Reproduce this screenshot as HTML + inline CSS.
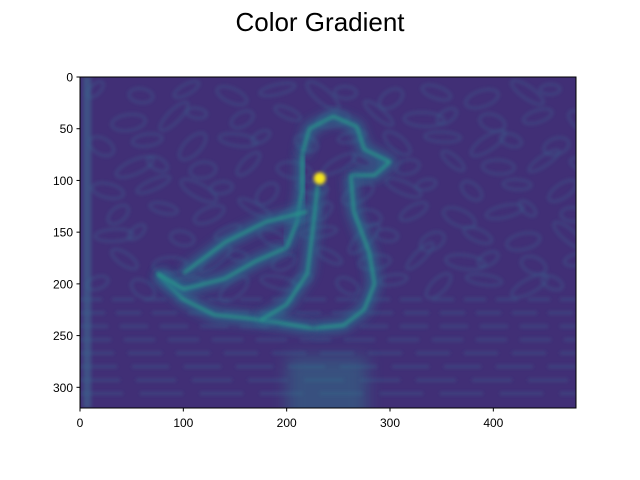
<!DOCTYPE html>
<html><head><meta charset="utf-8"><style>
html,body{margin:0;padding:0;background:#fff;width:640px;height:480px;overflow:hidden;font-family:"Liberation Sans",sans-serif}
svg{display:block}
</style></head><body>
<svg id="chart" width="640" height="480" xmlns="http://www.w3.org/2000/svg">
<defs>
<filter id="b6" x="-20%" y="-20%" width="140%" height="140%"><feGaussianBlur stdDeviation="5"/></filter>
<filter id="b2" x="-20%" y="-20%" width="140%" height="140%"><feGaussianBlur stdDeviation="1.8"/></filter>
<filter id="b10" x="-30%" y="-30%" width="160%" height="160%"><feGaussianBlur stdDeviation="8"/></filter>
<clipPath id="clip"><rect x="80" y="77" width="496" height="331"/></clipPath>
</defs>
<text x="320" y="31" font-size="26" text-anchor="middle" fill="#000">Color Gradient</text>
<g id="img" clip-path="url(#clip)"></g>
<rect x="80" y="77" width="496" height="331" fill="none" stroke="#000" stroke-width="1"/>
<g id="axes"></g>
</svg>
<script>
const xTicks=[0,100,200,300,400];
const yTicks=[0,50,100,150,200,250,300];
const xMax=480, yMax=320;
const duckHead=[[215,75],[222,50],[245,38],[268,48],[275,70],[300,82],[285,95],[262,95]];
const duckNeckFront=[[262,95],[265,130],[280,170],[285,200],[275,225],[255,240],[225,243]];
const duckBody=[[225,243],[190,237],[160,233],[130,230],[100,215],[75,190]];
const duckBack=[[75,190],[100,205],[140,195],[170,178],[200,165]];
const duckNeckBack=[[200,165],[210,140],[215,110],[215,75]];
const duckInner=[[230,105],[225,150],[220,190],[200,220],[175,235]];
const duckBackTop=[[220,130],[180,140],[140,160],[100,190]];
const glowX=[232], glowY=[98];
const x0=80,y0=77,w=496,h=331;
const sx=v=>x0+v/xMax*w, sy=v=>y0+v/yMax*h;
const NS="http://www.w3.org/2000/svg";
const img=document.getElementById('img');
const bg=document.createElementNS(NS,'rect');


bg.setAttribute('x',x0);bg.setAttribute('y',y0);bg.setAttribute('width',w);bg.setAttribute('height',h);bg.setAttribute('fill','#412f76');
img.appendChild(bg);
const tex=document.createElementNS(NS,'g');


tex.setAttribute('filter','url(#b2)');
let s='';
for(let r=0;r<9;r++){for(let c=0;c<12;c++){const k=(r*7+c*13)%11;const cx=sx(15+c*40+(r%2)*18+k*2),cy=sy(12+r*23+(k%4)*3);s+=`<ellipse cx="${cx}" cy="${cy}" rx="${10+k}" ry="${5+k%4}" fill="none" stroke="#3a5689" stroke-width="2.5" opacity="0.6" transform="rotate(${(r*37+c*53)%90-45} ${cx} ${cy})"/>`;}}
for(let r=0;r<8;r++){s+=`<line x1="${x0}" x2="${x0+w}" y1="${sy(215+r*13)}" y2="${sy(215+r*13)}" stroke="#3a5689" stroke-width="3" stroke-dasharray="${22+r*3} ${10+r}" opacity="0.55"/>`;}
s+=`<rect x="${sx(3)}" y="${y0}" width="8" height="${h}" fill="#3a6790" opacity="0.6"/>`;
tex.innerHTML=s;img.appendChild(tex);
const refl=document.createElementNS(NS,'rect');


refl.setAttribute('x',sx(200));refl.setAttribute('y',sy(270));refl.setAttribute('width',sx(278)-sx(200));refl.setAttribute('height',h);refl.setAttribute('fill','#2f7a8a');refl.setAttribute('opacity','0.45');refl.setAttribute('filter','url(#b10)');
img.appendChild(refl);
const strokes=[duckHead,duckNeckFront,duckBody,duckBack,duckNeckBack,duckInner,duckBackTop];
const names=['duck-head-edge','duck-neck-front-edge','duck-body-edge','duck-back-edge','duck-neck-back-edge','duck-inner-edge','duck-back-top-edge'];
strokes.forEach((pts,i)=>{
 const d='M'+pts.map(p=>sx(p[0])+','+sy(p[1])).join(' L');
 const g=document.createElementNS(NS,'path');
 
 
 g.setAttribute('d',d);g.setAttribute('fill','none');g.setAttribute('stroke','#2a6f8e');g.setAttribute('stroke-width','12');g.setAttribute('stroke-linejoin','round');g.setAttribute('opacity','0.8');g.setAttribute('filter','url(#b6)');
 img.appendChild(g);
 const p=document.createElementNS(NS,'path');
 
 
 p.setAttribute('d',d);p.setAttribute('fill','none');p.setAttribute('stroke','#25a58a');p.setAttribute('stroke-width','2.5');p.setAttribute('stroke-linejoin','round');p.setAttribute('opacity','0.85');p.setAttribute('filter','url(#b2)');
 img.appendChild(p);
});
glowX.forEach((gx,i)=>{
 const c=document.createElementNS(NS,'circle');
 
 
 c.setAttribute('cx',sx(gx));c.setAttribute('cy',sy(glowY[i]));c.setAttribute('r','6');c.setAttribute('fill','#f5e61f');c.setAttribute('filter','url(#b2)');
 img.appendChild(c);
});
const ax=document.getElementById('axes');
xTicks.forEach(t=>{
 const l=document.createElementNS(NS,'line');
 
 
 l.setAttribute('x1',sx(t));l.setAttribute('x2',sx(t));l.setAttribute('y1',y0+h);l.setAttribute('y2',y0+h+3.5);l.setAttribute('stroke','#000');
 ax.appendChild(l);
 const tx=document.createElementNS(NS,'text');
 
 
 tx.setAttribute('x',sx(t));tx.setAttribute('y',y0+h+19);tx.setAttribute('font-size','12');tx.setAttribute('text-anchor','middle');
 tx.textContent=t;ax.appendChild(tx);
});
yTicks.forEach(t=>{
 const l=document.createElementNS(NS,'line');
 
 
 l.setAttribute('x1',x0-3.5);l.setAttribute('x2',x0);l.setAttribute('y1',sy(t));l.setAttribute('y2',sy(t));l.setAttribute('stroke','#000');
 ax.appendChild(l);
 const tx=document.createElementNS(NS,'text');
 
 
 tx.setAttribute('x',x0-7);tx.setAttribute('y',sy(t)+4.5);tx.setAttribute('font-size','12');tx.setAttribute('text-anchor','end');
 tx.textContent=t;ax.appendChild(tx);
});
</script>
</body></html>
